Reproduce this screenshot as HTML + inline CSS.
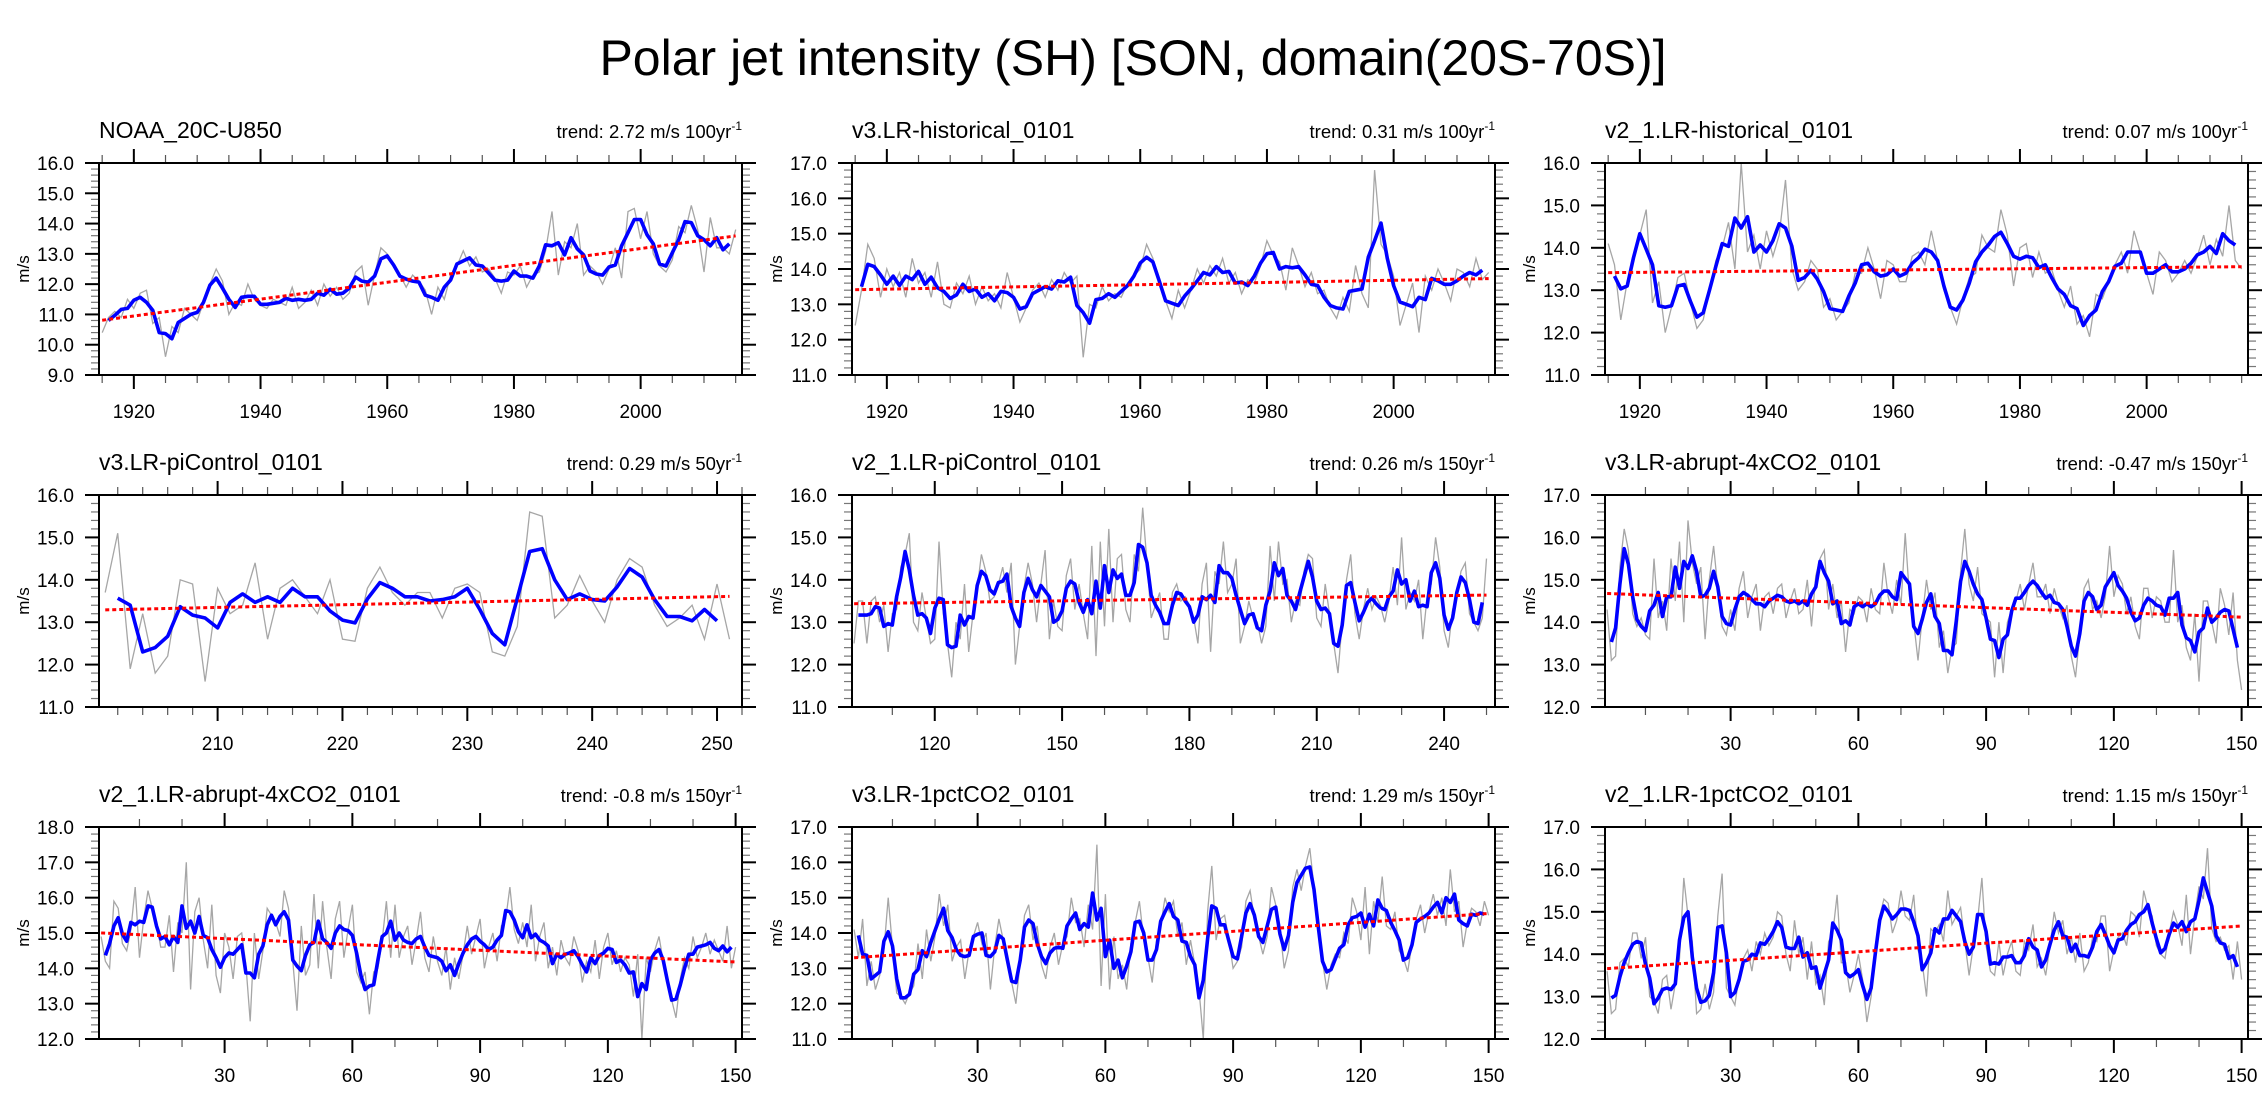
<!DOCTYPE html>
<html>
<head>
<meta charset="utf-8">
<style>
  html,body{margin:0;padding:0;background:#fff;}
  svg{display:block;font-family:"Liberation Sans",Arial,sans-serif;}
</style>
</head>
<body>
<svg id="fig" width="2267" height="1110" viewBox="0 0 2267 1110" xmlns="http://www.w3.org/2000/svg">
  <rect width="2267" height="1110" fill="#fff"/>
  <text x="1133" y="75" text-anchor="middle" font-size="50" fill="#000">Polar jet intensity (SH) [SON, domain(20S-70S)]</text>
</svg>
<script>
// ---------- data (annual values) ----------
const noaaStart = 1915;
const noaaValues = [10.4,10.9,11.1,10.9,11.5,11.2,11.7,11.8,10.7,10.9,
9.6,10.6,10.4,11.2,11.0,10.8,11.4,12.0,12.5,12.1,
11.0,11.4,11.3,12.0,11.5,11.3,11.2,11.5,11.4,11.3,
11.9,11.2,11.4,11.8,11.3,12.0,11.6,11.9,11.5,11.7,
12.4,12.6,11.3,12.3,13.2,13.0,12.6,12.3,11.9,12.3,
12.1,11.8,11.0,11.9,11.5,12.3,12.6,13.1,12.6,12.9,
12.4,12.5,12.2,11.7,12.4,12.3,12.6,11.9,12.3,12.4,
13.1,14.4,12.3,13.4,13.2,14.0,12.3,12.6,12.4,12.0,
12.5,13.2,12.2,14.4,14.5,13.5,14.4,13.0,12.6,12.4,
12.8,13.9,13.7,14.6,13.8,12.4,14.2,13.2,13.2,13.0,
13.8];

const v3HistStart = 1915;
const v3HistValues = [12.4,13.4,14.7,14.3,13.2,14.0,13.5,13.9,13.2,14.3,
13.6,13.9,13.2,14.2,13.0,12.9,13.6,13.3,13.8,13.0,
13.5,13.1,13.3,12.9,13.9,13.2,12.5,12.9,13.4,13.6,
13.2,13.7,13.4,13.9,13.6,13.8,11.5,13.0,12.9,13.5,
13.1,13.3,13.2,13.6,13.8,14.0,14.7,14.3,13.6,13.1,
12.6,13.4,12.9,13.4,14.0,13.6,14.1,13.8,14.3,13.6,
13.9,13.3,13.7,13.6,14.1,14.8,14.4,14.2,13.4,14.6,
14.1,13.5,13.9,13.3,13.4,12.9,12.6,13.2,12.8,14.1,
13.3,12.9,16.8,14.7,14.4,13.8,12.4,13.0,13.6,12.2,
13.8,13.4,14.0,13.6,13.1,14.0,13.9,13.5,14.3,13.7,
13.9];

const v2HistStart = 1915;
const v2HistValues = [14.1,13.6,12.3,13.2,13.8,14.3,14.9,12.7,13.2,12.0,
12.6,13.3,13.4,12.7,12.1,12.3,13.0,13.7,14.0,14.6,
13.5,16.0,13.9,14.3,13.5,14.4,13.8,14.3,15.6,13.5,
13.0,13.2,13.7,13.5,12.6,12.8,12.3,12.5,12.7,13.4,
13.4,14.0,13.5,12.8,13.7,13.6,13.2,13.2,13.8,13.9,
13.6,14.4,13.7,13.0,12.6,12.2,12.8,13.3,13.4,14.3,
14.0,13.9,14.9,14.3,13.1,14.0,14.1,13.3,13.9,13.4,
13.5,13.0,12.6,13.1,12.2,12.4,11.9,12.9,12.8,13.2,
13.6,13.9,13.4,14.4,13.9,13.4,12.9,13.9,13.7,13.2,
13.4,13.7,13.4,13.8,14.3,13.6,14.2,13.8,15.0,13.7,
13.5];

const v3PiStart = 201;
const v3PiValues = [13.7,15.1,11.9,13.2,11.8,12.2,14.0,13.9,11.6,13.8,
13.2,13.4,14.4,12.6,13.8,14.0,13.6,13.2,14.0,12.6,
12.55,13.8,14.3,13.7,
13.4,13.7,13.7,13.1,13.8,13.9,13.7,12.3,12.2,12.9,
15.6,15.5,13.1,13.4,14.1,13.5,13.0,14.0,14.5,14.3,
13.4,12.9,13.1,13.4,12.6,13.9,12.6];

const v2PiStart = 101;
const v2PiValues = [12.5,13.5,13.5,12.5,13.5,13.6,13.0,13.4,12.3,13.2,
13.3,14.3,14.6,15.1,13.0,12.8,13.7,13.1,12.5,12.6,
14.9,13.2,12.5,11.7,13.0,12.6,13.9,12.3,13.2,13.8,
14.6,14.2,13.5,13.6,13.9,14.3,13.7,14.4,12.0,12.9,
13.8,14.4,13.9,13.0,13.9,14.7,12.6,13.5,12.9,12.8,
14.1,14.5,13.3,13.9,13.2,12.6,14.8,12.2,14.9,12.9,
15.2,13.0,14.5,14.6,13.3,13.0,14.6,14.2,15.7,14.4,
13.1,13.4,13.7,12.6,12.6,13.7,13.9,13.5,13.6,13.4,
13.1,12.5,13.9,14.4,12.3,14.2,13.9,14.9,13.7,13.9,
14.5,12.5,12.9,13.5,13.1,13.0,12.5,12.9,14.8,13.5,
14.9,13.9,14.0,13.0,13.5,13.4,14.2,14.6,14.5,13.1,
12.9,13.9,13.2,12.5,11.8,13.0,14.0,14.6,13.2,12.6,
13.3,13.8,13.3,13.6,13.4,13.0,13.5,14.3,13.4,15.0,
13.3,13.7,13.5,14.0,12.6,13.6,13.9,15.0,14.3,12.8,
12.4,13.3,13.6,14.2,14.4,13.2,13.0,12.8,13.1,14.5];

const v3AbruptStart = 1;
const v3AbruptValues = [14.3,13.1,13.2,15.3,16.2,15.7,14.2,13.9,14.1,13.7,
13.6,15.5,14.1,14.5,13.8,15.5,14.5,15.9,14.0,16.4,
15.4,14.9,15.3,13.6,15.0,15.8,14.8,13.9,13.7,14.3,
13.8,14.8,15.2,14.1,14.6,14.9,13.8,14.6,14.7,14.2,
14.8,14.9,14.1,14.5,14.8,14.2,14.3,15.0,13.9,15.1,
15.5,15.7,14.3,14.9,14.1,14.5,13.3,14.3,14.2,14.6,
14.5,14.0,14.8,14.3,
14.2,15.4,14.6,14.2,15.0,14.4,16.1,14.6,14.0,13.1,
14.1,15.0,14.3,14.7,13.4,13.8,12.8,13.4,13.5,15.2,
16.2,14.9,14.5,15.3,14.2,14.1,14.0,12.7,14.0,12.8,
14.0,14.3,14.5,14.9,14.3,14.9,15.4,14.6,14.6,14.9,
14.2,14.8,14.4,14.1,
14.4,13.2,12.7,13.7,14.8,15.0,14.3,14.5,14.1,14.6,
15.8,14.6,15.1,14.9,14.2,14.6,13.9,13.6,14.8,14.8,
14.1,14.6,14.5,14.0,14.0,15.7,14.0,14.4,13.4,13.1,
14.2,12.6,14.5,14.5,14.0,13.5,14.8,14.4,13.7,14.7,
13.1,12.4];

const v2AbruptStart = 1;
const v2AbruptValues = [14.9,14.2,14.0,15.9,15.7,14.7,14.5,15.1,16.3,14.3,
15.4,16.2,15.7,15.3,14.6,14.6,15.5,13.9,15.3,15.0,
17.0,13.4,15.6,16.0,14.8,14.0,15.8,13.8,13.3,15.0,
14.6,13.7,14.9,15.0,14.1,12.5,15.0,13.7,14.5,15.7,
15.5,15.3,14.9,16.2,15.7,14.2,12.8,15.2,13.8,14.1,
16.1,14.0,15.9,14.6,13.7,15.4,15.9,14.3,15.1,15.8,
13.9,13.6,13.9,12.7,13.9,14.0,14.8,15.9,14.3,15.8,
14.3,
14.9,15.2,14.1,14.8,15.6,14.3,13.9,14.9,14.2,13.8,
14.6,13.4,14.3,13.7,14.4,15.2,14.4,14.9,15.4,14.0,
14.6,15.0,14.2,15.2,15.4,16.3,15.1,14.7,15.3,14.6,
15.8,14.2,14.9,15.3,14.0,14.6,13.8,14.8,14.3,14.1,
14.9,14.5,13.6,14.2,13.9,14.8,13.7,14.6,15.0,14.1,
14.5,13.9,14.3,14.1,13.2,14.4,12.0,14.3,13.9,14.5,
14.9,14.2,13.6,13.1,12.6,13.7,14.3,14.0,14.9,14.3,
14.6,15.0,14.4,14.8,14.5,14.2,15.2,14.0,14.6];

const v3PctStart = 1;
const v3PctValues = [14.1,13.3,14.4,12.5,13.2,12.4,12.8,13.5,15.0,13.6,
12.3,12.2,12.0,12.3,12.5,13.7,12.7,14.1,13.2,13.9,
15.1,14.2,14.8,13.2,13.6,13.8,12.7,13.5,13.9,14.3,
13.7,14.0,12.4,13.6,14.4,13.8,13.3,12.6,12.0,13.2,
14.5,14.8,13.8,14.2,13.1,12.7,13.6,14.0,13.1,13.7,
13.9,15.0,14.3,14.4,13.6,14.8,14.1,16.5,12.5,15.1,
12.4,13.9,12.7,13.1,12.4,13.7,14.3,14.9,13.8,13.3,
12.6,13.8,14.2,15.0,14.6,14.9,13.9,14.3,13.1,13.8,
13.1,12.4,11.0,14.6,15.9,13.8,14.4,14.5,13.8,13.0,
13.2,13.6,14.9,15.2,14.4,13.9,13.4,13.9,15.3,14.8,
14.1,13.0,13.5,15.3,15.8,15.2,15.9,16.4,15.3,14.0,
13.2,12.4,13.1,13.4,13.3,14.0,13.7,15.0,14.6,13.8,
15.3,13.4,14.9,14.3,15.6,14.2,14.1,14.6,13.5,13.3,
12.9,13.7,14.4,14.8,14.0,14.6,15.1,14.5,15.0,14.2,
15.8,14.6,14.9,13.6,14.3,14.7,14.6,14.2,14.9,14.5];

const v2PctStart = 1;
const v2PctValues = [13.6,12.6,12.7,13.8,13.9,13.7,14.5,14.5,13.9,14.4,
13.0,12.9,12.6,13.4,13.5,12.7,13.3,13.9,15.8,14.9,
14.3,12.6,12.7,13.3,12.7,13.1,14.9,15.9,13.2,13.0,
12.8,13.5,13.9,14.1,13.6,14.3,14.0,14.5,14.2,14.4,
15.0,14.9,14.0,13.6,14.8,14.0,14.4,13.4,14.3,13.3,
13.5,12.8,14.3,14.5,15.4,13.8,13.8,13.1,13.5,14.0,
13.4,12.4,13.0,14.2,14.9,15.3,15.2,14.5,14.8,15.5,
14.9,14.8,15.4,14.1,13.8,13.0,14.6,14.5,14.7,14.3,
15.5,14.7,14.9,15.1,14.3,13.5,14.2,14.8,15.8,14.2,
13.6,13.5,14.3,13.5,14.0,14.3,13.6,13.5,14.3,14.1,
14.7,13.7,13.9,13.5,14.2,15.0,14.5,14.8,14.0,14.4,
13.8,14.5,13.6,13.8,14.4,14.3,14.9,14.9,13.6,14.1,
14.4,14.5,14.2,15.0,14.9,14.4,15.5,15.1,14.9,14.2,
14.0,13.9,14.5,15.0,14.7,14.2,15.4,14.0,14.9,15.6,
15.3,16.5,14.6,14.3,14.4,14.1,14.2,13.4,14.3,13.4];

// tick labels
const histTickLabels = [1920,1940,1960,1980,2000];
const v3PiTickLabels = [210,220,230,240,250];
const v2PiTickLabels = [120,150,180,210,240];
const expTickLabels = [30,60,90,120,150];

// panel titles and trend text
const panelTitles = ["NOAA_20C-U850","v3.LR-historical_0101","v2_1.LR-historical_0101","v3.LR-piControl_0101","v2_1.LR-piControl_0101","v3.LR-abrupt-4xCO2_0101","v2_1.LR-abrupt-4xCO2_0101","v3.LR-1pctCO2_0101","v2_1.LR-1pctCO2_0101"];
const trendValues = ["2.72","0.31","0.07","0.29","0.26","-0.47","-0.8","1.29","1.15"];
const trendPeriods = ["100yr","100yr","100yr","50yr","150yr","150yr","150yr","150yr","150yr"];

// ---------- rendering ----------
const NS = "http://www.w3.org/2000/svg";
const svg = document.getElementById("fig");
function mk(tag, attrs, parent){
  const e = document.createElementNS(NS, tag);
  for (const k in attrs) e.setAttribute(k, attrs[k]);
  (parent||svg).appendChild(e);
  return e;
}
const colL = [99, 852, 1605], rowT = [163, 495, 827], PW = 643, PH = 212;

const panels = [
  {vals:noaaValues,   x0:noaaStart,     xr:[1914.5,2016], yr:[9,16],  ticks:histTickLabels, minor:5},
  {vals:v3HistValues, x0:v3HistStart,   xr:[1914.5,2016], yr:[11,17], ticks:histTickLabels, minor:5},
  {vals:v2HistValues, x0:v2HistStart,   xr:[1914.5,2016], yr:[11,16], ticks:histTickLabels, minor:5},
  {vals:v3PiValues,   x0:v3PiStart,     xr:[200.5,252],   yr:[11,16], ticks:v3PiTickLabels, minor:2},
  {vals:v2PiValues,   x0:v2PiStart,     xr:[100.5,252],   yr:[11,16], ticks:v2PiTickLabels, minor:10},
  {vals:v3AbruptValues,x0:v3AbruptStart,xr:[0.5,151.5],   yr:[12,17], ticks:expTickLabels, minor:10},
  {vals:v2AbruptValues,x0:v2AbruptStart,xr:[0.5,151.5],   yr:[12,18], ticks:expTickLabels, minor:10},
  {vals:v3PctValues,  x0:v3PctStart,    xr:[0.5,151.5],   yr:[11,17], ticks:expTickLabels, minor:10},
  {vals:v2PctValues,  x0:v2PctStart,    xr:[0.5,151.5],   yr:[12,17], ticks:expTickLabels, minor:10}
];

panels.forEach((p, idx) => {
  const L = colL[idx % 3], T = rowT[Math.floor(idx / 3)], R = L + PW, B = T + PH;
  const g = mk("g", {});
  
  
  const sx = v => L + (v - p.xr[0]) / (p.xr[1] - p.xr[0]) * PW;
  const sy = v => T + (p.yr[1] - v) / (p.yr[1] - p.yr[0]) * PH;

  // title
  const tt = mk("text", {x: L, y: T - 25, "font-size": 23, fill: "#000"}, g);
  tt.textContent = panelTitles[idx];
  
  
  const tr = mk("text", {x: R, y: T - 25, "font-size": 18.5, fill: "#000", "text-anchor": "end"}, g);
  
  
  const t1 = mk("tspan", {}, tr); t1.textContent = "trend: " + trendValues[idx] + " m/s " + trendPeriods[idx];
  const t2 = mk("tspan", {dy: -8, "font-size": 12}, tr); t2.textContent = "-1";

  // y ticks
  const ny = Math.round((p.yr[1] - p.yr[0]) * 5);
  for (let k = 0; k <= ny; k++) {
    const v = p.yr[0] + k * 0.2, y = sy(v), major = k % 5 === 0;
    const len = major ? 14 : 8, col = major ? "#000" : "#777", w = major ? 2 : 1.2;
    mk("line", {x1: L - len, y1: y, x2: L, y2: y, stroke: col, "stroke-width": w}, g);
    mk("line", {x1: R, y1: y, x2: R + len, y2: y, stroke: col, "stroke-width": w}, g);
    if (major) {
      const lb = mk("text", {x: L - 25, y: y + 7, "font-size": 19, "text-anchor": "end", fill: "#000"}, g);
      lb.textContent = v.toFixed(1);
      
      
    }
  }
  // x minor ticks
  for (let v = Math.ceil(p.xr[0] / p.minor) * p.minor; v <= p.xr[1]; v += p.minor) {
    const x = sx(v);
    mk("line", {x1: x, y1: B, x2: x, y2: B + 8, stroke: "#555", "stroke-width": 1.2}, g);
    mk("line", {x1: x, y1: T - 8, x2: x, y2: T, stroke: "#555", "stroke-width": 1.2}, g);
  }
  // x major ticks + labels
  p.ticks.forEach(v => {
    const x = sx(v);
    mk("line", {x1: x, y1: B, x2: x, y2: B + 14, stroke: "#000", "stroke-width": 2}, g);
    mk("line", {x1: x, y1: T - 14, x2: x, y2: T, stroke: "#000", "stroke-width": 2}, g);
    const lb = mk("text", {x: x, y: B + 43, "font-size": 19, "text-anchor": "middle", fill: "#000"}, g);
    lb.textContent = v;
    
    
  });
  // y-axis title
  const yt = mk("text", {x: 0, y: 0, "font-size": 17, "text-anchor": "middle", fill: "#000",
    transform: "translate(" + (L - 70) + "," + (T + PH / 2) + ") rotate(-90)"}, g);
  yt.textContent = "m/s";
  
  

  // annual (gray) line
  const n = p.vals.length;
  const gp = p.vals.map((v, i) => sx(p.x0 + i).toFixed(1) + "," + sy(v).toFixed(1)).join(" ");
  const gl = mk("polyline", {points: gp, fill: "none", stroke: "#a6a6a6", "stroke-width": 1.3}, g);
  
  

  // 3-yr running mean (blue)
  const bp = [];
  for (let i = 1; i < n - 1; i++) {
    const m = (p.vals[i - 1] + p.vals[i] + p.vals[i + 1]) / 3;
    bp.push(sx(p.x0 + i).toFixed(1) + "," + sy(m).toFixed(1));
  }
  const bl = mk("polyline", {points: bp.join(" "), fill: "none", stroke: "#0000ff", "stroke-width": 3.6, "stroke-linejoin": "round"}, g);
  
  

  // linear trend (red dotted)
  let sxx = 0, sxy = 0, mx = 0, my = 0;
  p.vals.forEach((v, i) => { mx += i; my += v; });
  mx /= n; my /= n;
  p.vals.forEach((v, i) => { sxx += (i - mx) * (i - mx); sxy += (i - mx) * (v - my); });
  const b = sxy / sxx, a = my - b * mx;
  const rl = mk("line", {x1: sx(p.x0), y1: sy(a), x2: sx(p.x0 + n - 1), y2: sy(a + b * (n - 1)),
    stroke: "#ff0000", "stroke-width": 3, "stroke-dasharray": "4,3"}, g);
  
  

  // frame
  const fr = mk("rect", {x: L, y: T, width: PW, height: PH, fill: "none", stroke: "#000", "stroke-width": 2}, g);
  
  
});
</script>
</body>
</html>
